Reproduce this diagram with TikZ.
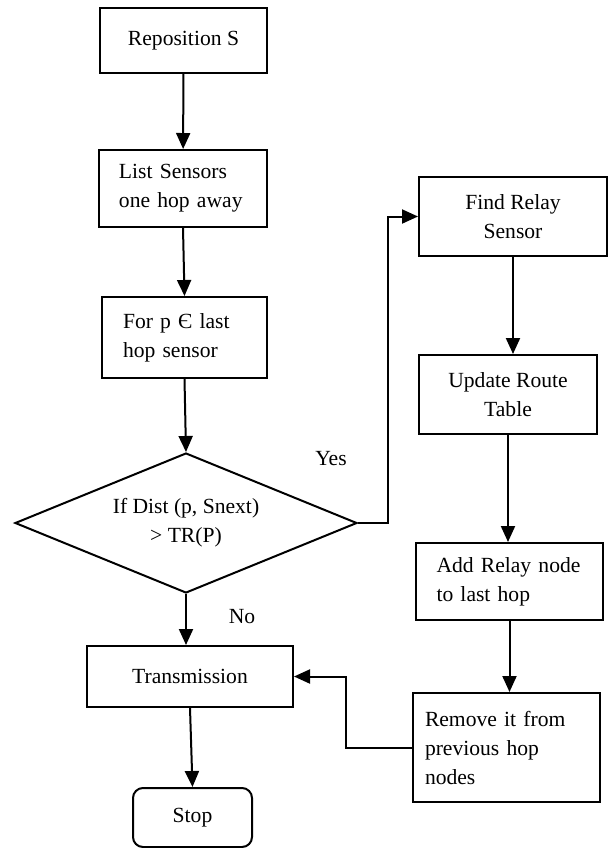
\documentclass[tikz,border=0pt]{standalone}
\usepackage{fontspec}
\setmainfont{Liberation Serif}
\usetikzlibrary{shapes.geometric,arrows.meta}
\begin{document}
\begin{tikzpicture}[x=0.5pt,y=-0.5pt,
  every node/.style={font=\fontsize{10.8}{14.5}\selectfont, inner sep=0pt},
  box/.style={draw, line width=1pt, rectangle, align=center},
  lbox/.style={draw, line width=1pt, rectangle, align=left},
  decision/.style={draw, line width=1pt, diamond, aspect=2.44, align=center},
  term/.style={draw, line width=1pt, rectangle, rounded corners=5pt},
  arr/.style={line width=1pt, -{Triangle[width=7pt,length=8pt]}},
  lbl/.style={font=\fontsize{10.8}{14.5}\selectfont}]
\useasboundingbox (0,0) rectangle (608,848);

\node[box, minimum width=83.5pt, minimum height=32.5pt] (rep) at (183.5,40.5) {Reposition S};
\node[lbox, minimum width=84pt, minimum height=38.5pt, text width=64pt] (list) at (183,188.5) {List Sensors\\one hop away};
\node[lbox, minimum width=82.5pt, minimum height=40.5pt, text width=61.5pt] (forp) at (184.5,337.5) {For p Є last\\hop sensor};
\node[decision, minimum width=171pt, minimum height=70pt] (dia) at (186,523) {If Dist (p, Snext)\\> TR(P)};
\node[box, minimum width=103pt, minimum height=30.5pt] (trans) at (190,676.5) {Transmission};
\node[term, minimum width=59.5pt, minimum height=29.5pt] (stop) at (192.5,817.5) {Stop};

\node[box, minimum width=94pt, minimum height=39.5pt] (find) at (513,216.5) {Find Relay\\Sensor};
\node[box, minimum width=89pt, minimum height=39.5pt] (upd) at (508,394.5) {Update Route\\Table};
\node[lbox, minimum width=93.5pt, minimum height=38.5pt, text width=73pt] (add) at (509.5,581.5) {Add Relay node\\to last hop};
\node[lbox, minimum width=93.5pt, minimum height=54.5pt, text width=81.5pt] (rem) at (506.5,747.5) {Remove it from\\previous hop\\nodes};

\draw[arr] (rep) -- (list);
\draw[arr] (list.south) -- (forp.north);
\draw[arr] (forp.south) -- (dia.north);
\draw[arr] (dia.east) -- ++(30,0) |- (find.west);
\draw[arr] (find.south) -- (find.south |- upd.north);
\draw[arr] (upd.south) -- (upd.south |- add.north);
\draw[arr] (add.south) -- (add.south |- rem.north);
\draw[arr] (dia.south) -- (dia.south |- trans.north);
\draw[arr] (trans.south) -- (stop.north);
\draw[arr] (rem.west) -- ++(-66,0) |- (trans.east);

\node[lbl] (yes) at (331,459) {Yes};
\node[lbl] (no) at (242,617) {No};
\end{tikzpicture}
\end{document}
